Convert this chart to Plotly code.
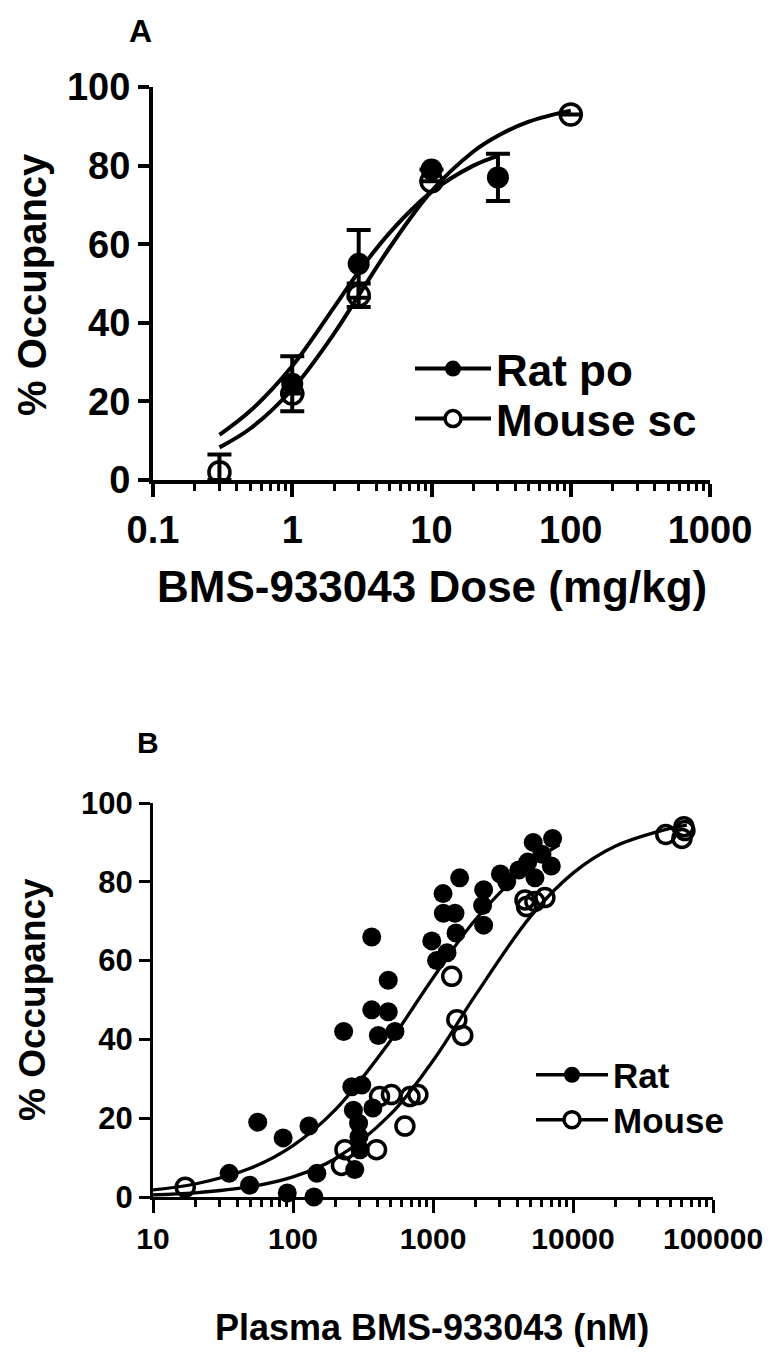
import plotly.graph_objects as go

# ---------------- Panel A data (dose, % occupancy) ----------------
a_rat_dose = [1, 3, 10, 30]
a_rat_occ = [24.5, 55, 79, 77]
a_rat_err = [7, 8.6, 0, 6]

a_mouse_dose = [0.3, 1, 3, 10, 100]
a_mouse_occ = [2, 22, 47, 76, 93]
a_mouse_err_up = [4.5, 0, 3, 0, 0]
a_mouse_err_dn = [2, 0, 3, 0, 0]

# fitted curves
a_rat_fit_x = [0.3, 0.5, 1, 2, 3, 5, 10, 20, 30]
a_rat_fit_y = [11.5, 17.6, 29, 44, 53, 62.9, 73.3, 80, 82.5]
a_mouse_fit_x = [0.3, 0.5, 1, 2, 3, 5, 10, 20, 30, 50, 100]
a_mouse_fit_y = [8.3, 13.1, 23.1, 37.3, 47, 59.1, 73.5, 83.6, 87.6, 91.2, 94]

# ---------------- Panel B data (plasma nM, % occupancy) ----------------
b_rat_conc = [35, 49, 56, 85, 91, 130, 141, 148, 230, 263, 276, 270, 294, 296, 301,
              310, 372, 365, 365, 407, 479, 479, 535, 980, 1060, 1180, 1186, 1260,
              1435, 1460, 1550, 2300, 2260, 2300, 3030, 3360, 4100, 4750, 5200,
              5350, 6000, 7000, 7150]
b_rat_occ = [6, 3, 19, 15, 1, 18, 0, 6, 42, 28, 7, 22, 18.7, 15.3, 12,
             28.4, 22.6, 66, 47.5, 41, 55, 47, 42, 65, 60, 77, 72, 62,
             72, 67, 81, 78, 74, 69, 82, 80, 83, 85, 90,
             81, 87, 84, 91]

b_mouse_conc = [17, 222, 235, 395, 415, 505, 630, 685, 780, 1360, 1480, 1630,
                4540, 4660, 5340, 6300, 46000, 60000, 62000, 63000]
b_mouse_occ = [2.5, 8, 12, 12, 25.5, 26, 18, 25.5, 26, 56, 45, 41,
               75.4, 73.7, 75, 76, 92, 91, 94, 93]

b_rat_fit_x = [10, 20, 50, 100, 200, 500, 1000, 2000, 5000, 8000]
b_rat_fit_y = [1.8, 3.3, 7.35, 13.05, 22.1, 39.8, 55.6, 70.3, 84.6, 89.4]
b_mouse_fit_x = [10, 20, 50, 100, 200, 500, 1000, 2000, 5000, 10000, 20000, 50000, 65000]
b_mouse_fit_y = [0.54, 1.07, 2.62, 5.1, 9.7, 21.1, 34.6, 51.1, 71.3, 82.2, 89.0, 93.6, 94.4]

a_xticks = [0.1, 1, 10, 100, 1000]
a_xticktext = ["0.1", "1", "10", "100", "1000"]
b_xticks = [10, 100, 1000, 10000, 100000]
b_xticktext = ["10", "100", "1000", "10000", "100000"]
yticks = [0, 20, 40, 60, 80, 100]

FONT = "Liberation Sans, Arial, sans-serif"

# page is shifted by the 8px body margin; work in page pixels
OFF = 8
W, H = 771 - OFF, 1355 - 2 * OFF


def px_x(p):
    return (p - OFF) / W


def px_y(p):
    return 1 - (p - OFF) / H


def bold(size):
    return dict(size=size, weight="bold", family=FONT, color="black")


fig = go.Figure()

# ---- styles ----
LWA, LWB = 4, 3.3
lineA = dict(color="black", width=LWA)
lineB = dict(color="black", width=LWB)
filledA = dict(symbol="circle", size=22, color="black")
hollowA = dict(symbol="circle-open", size=21, color="black", line=dict(width=3.5, color="black"))
filledB = dict(symbol="circle", size=19, color="black")
hollowB = dict(symbol="circle-open", size=18, color="black", line=dict(width=3.5, color="black"))
legend_hollow = dict(symbol="circle", size=18, color="white", line=dict(width=3.5, color="black"))

# Panel A curves
fig.add_trace(go.Scatter(x=a_mouse_fit_x, y=a_mouse_fit_y, mode="lines", line=dict(shape="spline", **lineA),
                         xaxis="x", yaxis="y", showlegend=False, cliponaxis=False, hoverinfo="skip"))
fig.add_trace(go.Scatter(x=a_rat_fit_x, y=a_rat_fit_y, mode="lines", line=dict(shape="spline", **lineA),
                         xaxis="x", yaxis="y", showlegend=False, cliponaxis=False, hoverinfo="skip"))
# Panel A points
fig.add_trace(go.Scatter(x=a_mouse_dose, y=a_mouse_occ, mode="markers", marker=hollowA,
                         error_y=dict(type="data", array=a_mouse_err_up, arrayminus=a_mouse_err_dn,
                                      color="black", thickness=LWA, width=12),
                         xaxis="x", yaxis="y", showlegend=False, cliponaxis=False, name="Mouse sc"))
fig.add_trace(go.Scatter(x=a_rat_dose, y=a_rat_occ, mode="markers", marker=filledA,
                         error_y=dict(type="data", array=a_rat_err, color="black", thickness=LWA, width=12),
                         xaxis="x", yaxis="y", showlegend=False, cliponaxis=False, name="Rat po"))
# Panel A legend entries (one legend each for exact placement)
fig.add_trace(go.Scatter(x=[None], y=[None], mode="lines+markers", line=lineA, marker=filledA,
                         name="Rat po", xaxis="x", yaxis="y", legend="legend"))
fig.add_trace(go.Scatter(x=[None], y=[None], mode="lines+markers", line=lineA, marker=legend_hollow,
                         name="Mouse sc", xaxis="x", yaxis="y", legend="legend3"))

# Panel B curves
fig.add_trace(go.Scatter(x=b_rat_fit_x, y=b_rat_fit_y, mode="lines", line=dict(shape="spline", **lineB),
                         xaxis="x2", yaxis="y2", showlegend=False, cliponaxis=False, hoverinfo="skip"))
fig.add_trace(go.Scatter(x=b_mouse_fit_x, y=b_mouse_fit_y, mode="lines", line=dict(shape="spline", **lineB),
                         xaxis="x2", yaxis="y2", showlegend=False, cliponaxis=False, hoverinfo="skip"))
# Panel B points
fig.add_trace(go.Scatter(x=b_rat_conc, y=b_rat_occ, mode="markers", marker=filledB,
                         xaxis="x2", yaxis="y2", showlegend=False, cliponaxis=False, name="Rat"))
fig.add_trace(go.Scatter(x=b_mouse_conc, y=b_mouse_occ, mode="markers", marker=hollowB,
                         xaxis="x2", yaxis="y2", showlegend=False, cliponaxis=False, name="Mouse"))
# Panel B legend entries
fig.add_trace(go.Scatter(x=[None], y=[None], mode="lines+markers", line=lineB, marker=filledB,
                         name="Rat", xaxis="x2", yaxis="y2", legend="legend2"))
fig.add_trace(go.Scatter(x=[None], y=[None], mode="lines+markers", line=lineB, marker=legend_hollow,
                         name="Mouse", xaxis="x2", yaxis="y2", legend="legend4"))


def xaxis_style(lw, fs):
    return dict(type="log", showline=True, linewidth=lw, linecolor="black", ticks="outside",
                ticklen=13, tickwidth=lw, tickcolor="black", showgrid=False, zeroline=False,
                automargin=False, tickfont=bold(fs),
                minor=dict(ticks="outside", ticklen=7, tickwidth=lw * 0.8, tickcolor="black",
                           dtick="D1", showgrid=False))


def yaxis_style(lw, fs):
    return dict(range=[0, 100], showline=True, linewidth=lw, linecolor="black", ticks="outside",
                ticklen=11, tickwidth=lw, tickcolor="black", showgrid=False, zeroline=False,
                tickvals=yticks, automargin=False, tickfont=bold(fs))


def one_legend(xp, yp, fs, iw):
    return dict(x=px_x(xp), y=px_y(yp), xanchor="left", yanchor="middle", bgcolor="rgba(0,0,0,0)",
                font=bold(fs), itemwidth=iw, tracegroupgap=0, borderwidth=0)


def label(text, xp, yp, fs, angle=0):
    return dict(text=text, x=px_x(xp), y=px_y(yp), xref="paper", yref="paper", showarrow=False,
                xanchor="center", yanchor="middle", textangle=angle, font=bold(fs))


fig.update_layout(
    template="none",
    width=W, height=H, margin=dict(l=0, r=0, t=0, b=0, pad=0, autoexpand=False),
    paper_bgcolor="white", plot_bgcolor="white",
    font=dict(family=FONT, color="black"),
    xaxis=dict(xaxis_style(LWA, 38), range=[-1, 3], domain=[px_x(153), px_x(710)], anchor="y",
               tickvals=a_xticks, ticktext=a_xticktext),
    yaxis=dict(yaxis_style(LWA, 38), domain=[px_y(480), px_y(87)], anchor="x"),
    xaxis2=dict(xaxis_style(LWB, 30), range=[1, 5], domain=[px_x(153), px_x(713)], anchor="y2",
                tickvals=b_xticks, ticktext=b_xticktext),
    yaxis2=dict(yaxis_style(LWB, 31), domain=[px_y(1197), px_y(803)], anchor="x2"),
    legend=one_legend(410, 369, 44, 76),
    legend3=one_legend(410, 419, 44, 76),
    legend2=one_legend(531, 1075, 35, 72),
    legend4=one_legend(531, 1120, 35, 72),
    annotations=[
        label("A", 140, 31, 32),
        label("B", 148, 742, 30),
        label("BMS-933043 Dose (mg/kg)", 432, 587, 44),
        label("% Occupancy", 32, 285, 40, -90),
        label("Plasma BMS-933043 (nM)", 432, 1327, 36),
        label("% Occupancy", 32, 1000, 37, -90),
    ],
)

fig.write_html("out.html")
